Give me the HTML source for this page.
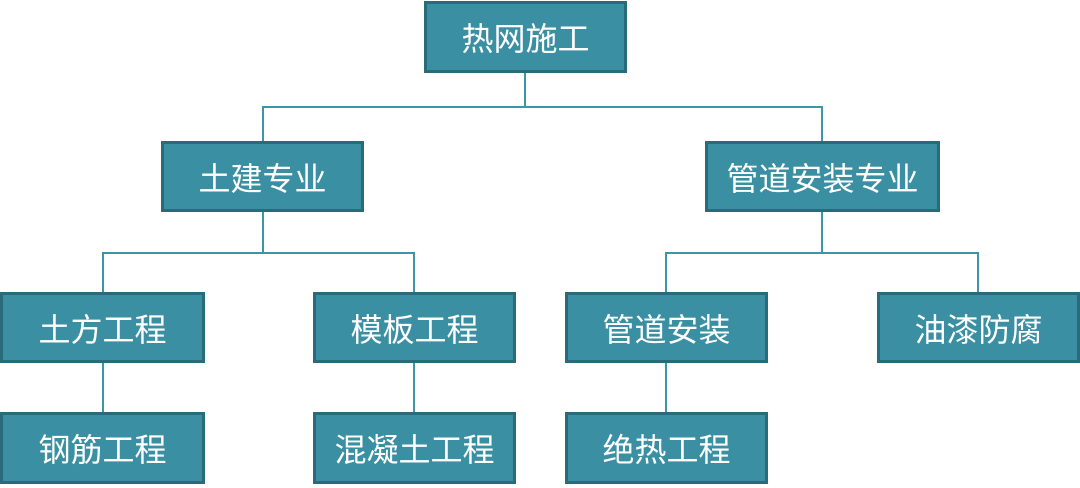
<!DOCTYPE html>
<html><head><meta charset="utf-8"><style>
body{margin:0;width:1080px;height:488px;background:#fff;position:relative;overflow:hidden;font-family:"Liberation Sans","Noto Sans CJK SC",sans-serif}
.b{position:absolute;box-sizing:border-box;background:#3a8fa3;border:3px solid #296b7b;color:#fff;font-size:32px;display:flex;align-items:center;justify-content:center}
.l{position:absolute;background:#3f95a8}
</style></head><body>
<div class="l" style="left:524px;top:72px;width:2px;height:36px"></div>
<div class="l" style="left:262px;top:106px;width:561px;height:2px"></div>
<div class="l" style="left:262px;top:106px;width:2px;height:36px"></div>
<div class="l" style="left:821px;top:106px;width:2px;height:36px"></div>
<div class="l" style="left:262px;top:211px;width:2px;height:43px"></div>
<div class="l" style="left:102px;top:252px;width:313px;height:2px"></div>
<div class="l" style="left:102px;top:252px;width:2px;height:41px"></div>
<div class="l" style="left:413px;top:252px;width:2px;height:41px"></div>
<div class="l" style="left:821px;top:211px;width:2px;height:43px"></div>
<div class="l" style="left:665px;top:252px;width:314px;height:2px"></div>
<div class="l" style="left:665px;top:252px;width:2px;height:41px"></div>
<div class="l" style="left:977px;top:252px;width:2px;height:41px"></div>
<div class="l" style="left:102px;top:362px;width:2px;height:51px"></div>
<div class="l" style="left:413px;top:362px;width:2px;height:51px"></div>
<div class="l" style="left:665px;top:362px;width:2px;height:51px"></div>
<div class="b" style="left:424px;top:1px;width:203px;height:72px">热网施工</div>
<div class="b" style="left:161px;top:141px;width:203px;height:71px">土建专业</div>
<div class="b" style="left:705px;top:141px;width:235px;height:71px">管道安装专业</div>
<div class="b" style="left:0px;top:292px;width:205px;height:71px">土方工程</div>
<div class="b" style="left:313px;top:292px;width:203px;height:71px">模板工程</div>
<div class="b" style="left:565px;top:292px;width:203px;height:71px">管道安装</div>
<div class="b" style="left:877px;top:292px;width:203px;height:71px">油漆防腐</div>
<div class="b" style="left:0px;top:412px;width:205px;height:72px">钢筋工程</div>
<div class="b" style="left:313px;top:412px;width:203px;height:72px">混凝土工程</div>
<div class="b" style="left:565px;top:412px;width:203px;height:72px">绝热工程</div>
</body></html>
